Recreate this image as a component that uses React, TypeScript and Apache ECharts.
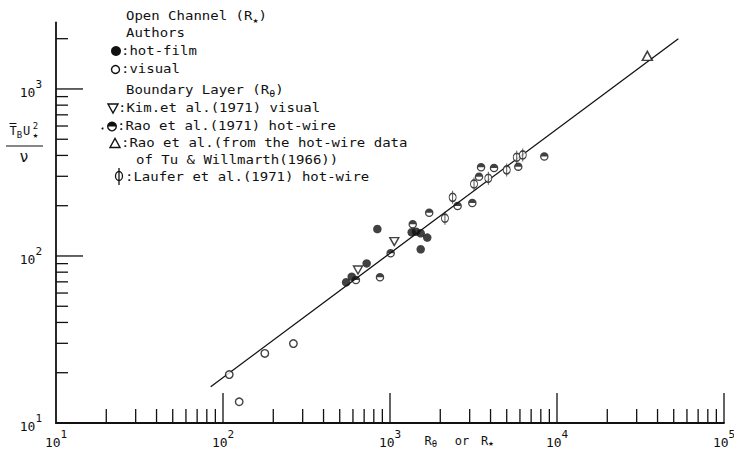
import React, { useEffect, useRef } from 'react';
import * as echarts from 'echarts';

const FONT = '"DejaVu Sans Mono", monospace';
const INK = '#111';

// Open channel (R*), hot-film
const hotFilmR = [546, 590, 725, 840, 1349, 1432, 1527, 1671, 1527];
const hotFilmT = [69.6, 75.2, 90.3, 145, 138.6, 139.8, 136.8, 128.8, 109.7];
// Open channel (R*), visual
const visualR = [109, 125, 178, 264];
const visualT = [19.5, 13.4, 26.1, 29.9];
// Boundary layer (R_theta): Kim et al. (1971) visual
const kimR = [643, 1061];
const kimT = [82.4, 121.9];
// Rao et al. (1971) hot-wire
const raoR = [625, 871, 1009, 1368, 1717, 2541, 3111, 3412, 3509, 4197, 5861, 8393];
const raoT = [71.8, 74.6, 103.7, 154.8, 181.5, 199, 207.6, 298.5, 339.8, 336.6, 342.7, 393.5];
// Rao et al. from the hot-wire data of Tu & Willmarth (1966)
const tuR = [34750];
const tuT = [1578];
// Laufer et al. (1971) hot-wire
const lauferR = [2133, 2372, 3185, 3879, 5000, 5741, 6237];
const lauferT = [168.3, 224.4, 269.8, 291.9, 327.6, 389.9, 402.6];
// correlation line
const fitR = [84.4, 53300];
const fitT = [16.5, 2000];

// axis ranges and tick positions
const X_MIN = 10;
const X_MAX = 100000;
const Y_MIN = 10;
const Y_MAX = 2500;
const xMajorTicks = [100, 1000, 10000, 100000];
const xMinorTicks = [
  20, 30, 40, 50, 60, 70, 80, 90,
  200, 300, 400, 500, 600, 700, 800, 900,
  2000, 3000, 4000, 5000, 6000, 7000, 8000, 9000,
  20000, 30000, 40000, 50000, 60000, 70000, 80000, 90000,
];
const yMajorTicks = [100, 1000];
const yMinorTicks = [
  20, 30, 40, 50, 60, 70, 80, 90,
  200, 300, 400, 500, 600, 700, 800, 900,
  2000,
];

// upper half filled, lower half open
const HALF_PATH = 'path://M0,10A10,10,0,1,1,20,10A10,10,0,1,1,0,10ZM3,10A7,7,0,0,0,17,10Z';
// circle crossed by a vertical stroke
const PHI_PATH = 'path://M10,0L10,32M0,16A10,10,0,1,1,20,16A10,10,0,1,1,0,16Z';

const pairs = (xs: number[], ys: number[]) => xs.map((x, i) => [x, ys[i]]);

const powLabel = (v: number) => {
  const e = Math.round(Math.log10(v));
  if (Math.abs(Math.log10(v) - e) > 1e-6) return '';
  return `{b|10}{e|${e}}`;
};

const labelRich = {
  b: { fontFamily: FONT, fontSize: 13, color: INK, lineHeight: 20, verticalAlign: 'bottom' },
  e: { fontFamily: FONT, fontSize: 11, color: INK, lineHeight: 11, verticalAlign: 'top' },
};

const tickSeries = (vals: number[], axis: 'x' | 'y', len: number) => ({
  type: 'custom',
  silent: true,
  z: 5,
  data: vals.map((v) => (axis === 'x' ? [v, Y_MIN] : [X_MIN, v])),
  renderItem: (_p: any, api: any) => {
    const p = api.coord([api.value(0), api.value(1)]);
    const shape =
      axis === 'x'
        ? { x1: p[0], y1: p[1], x2: p[0], y2: p[1] - len }
        : { x1: p[0], y1: p[1], x2: p[0] + len, y2: p[1] };
    return { type: 'line', shape, style: { stroke: INK, lineWidth: 1.3 } };
  },
});

const txt = (x: number, y: number, text: string, fontSize: number, extra: any = {}) => ({
  type: 'text',
  x,
  y,
  scaleY: extra.scaleY ?? 1,
  style: {
    text,
    fill: INK,
    fontFamily: FONT,
    fontSize,
    align: extra.align ?? 'left',
    verticalAlign: 'middle',
    textAlign: extra.align ?? 'left',
    textVerticalAlign: 'middle',
    lineHeight: extra.lineHeight,
    rich: extra.rich,
  },
});

const subRich = {
  s: { fontFamily: FONT, fontSize: 10, color: INK, lineHeight: 10, verticalAlign: 'bottom' },
};

const legendLine = (x: number, y: number, text: string) =>
  txt(x, y, text, 14, { scaleY: 0.85, lineHeight: 20, rich: subRich });

const stroke = { stroke: INK, lineWidth: 1.4, fill: '#fff' };

const graphics: any[] = [
  // legend text
  legendLine(126, 16, 'Open Channel (R{s|★})'),
  legendLine(126, 33, 'Authors'),
  legendLine(121, 51, ':hot-film'),
  legendLine(121, 69, ':visual'),
  legendLine(126, 90, 'Boundary Layer (R{s|θ})'),
  legendLine(118, 108, ':Kim.et al.(1971) visual'),
  legendLine(117, 126, ':Rao et al.(1971) hot-wire'),
  legendLine(121, 143, ':Rao et al.(from the hot-wire data'),
  legendLine(136, 160, 'of Tu & Willmarth(1966))'),
  legendLine(125, 177, ':Laufer et al.(1971) hot-wire'),
  // legend markers
  { type: 'circle', shape: { cx: 116, cy: 51, r: 5 }, style: { fill: INK } },
  { type: 'circle', shape: { cx: 115.5, cy: 69.5, r: 4 }, style: stroke },
  { type: 'polygon', shape: { points: [[108, 104], [118, 104], [113, 113]] }, style: stroke },
  { type: 'circle', shape: { cx: 102.5, cy: 128.5, r: 1 }, style: { fill: INK } },
  { type: 'circle', shape: { cx: 112, cy: 126.5, r: 4.3 }, style: stroke },
  { type: 'sector', shape: { cx: 112, cy: 126.5, r: 4.5, r0: 0, startAngle: Math.PI, endAngle: Math.PI * 2 }, style: { fill: INK } },
  { type: 'polygon', shape: { points: [[110, 147.5], [120, 147.5], [115, 138.5]] }, style: stroke },
  { type: 'line', shape: { x1: 119, y1: 168, x2: 119, y2: 185 }, style: { stroke: INK, lineWidth: 1.3 } },
  { type: 'ellipse', shape: { cx: 119, cy: 176, rx: 3.5, ry: 4.5 }, style: { stroke: INK, lineWidth: 1.3, fill: 'none' } },
  // y-axis title: T_B U*^2 / nu
  txt(13, 131, 'T', 12, { align: 'center' }),
  { type: 'line', shape: { x1: 9.5, y1: 123.5, x2: 16.5, y2: 123.5 }, style: { stroke: INK, lineWidth: 1 } },
  txt(19.5, 135, 'B', 9, { align: 'center' }),
  txt(26.5, 131, 'U', 12, { align: 'center' }),
  txt(35.5, 126, '2', 9, { align: 'center' }),
  txt(35.5, 135, '★', 9, { align: 'center' }),
  { type: 'line', shape: { x1: 6, y1: 146, x2: 43, y2: 146 }, style: { stroke: INK, lineWidth: 1.2 } },
  txt(24, 157, 'ν', 15, { align: 'center' }),
  // x-axis title: R_theta or R*
  txt(428, 441, 'R', 12, { align: 'center' }),
  txt(434.5, 444, 'θ', 9, { align: 'center' }),
  txt(462, 441, 'or', 12, { align: 'center' }),
  txt(484.5, 441, 'R', 12, { align: 'center' }),
  txt(491, 443, '★', 9, { align: 'center' }),
];

const App: React.FC = () => {
  const ref = useRef<HTMLDivElement>(null);

  useEffect(() => {
    if (!ref.current) return;
    const chart = echarts.init(ref.current, undefined, { renderer: 'svg' });
    const axisLine = { show: true, onZero: false, lineStyle: { color: INK, width: 1.8 } };
    chart.setOption({
      animation: false,
      backgroundColor: '#fff',
      grid: { left: 56, right: 10, top: 22.5, bottom: 37, containLabel: false, outerBoundsMode: 'none' },
      xAxis: {
        type: 'log',
        logBase: 10,
        min: X_MIN,
        max: X_MAX,
        axisLine,
        axisTick: { show: false },
        splitLine: { show: false },
        axisLabel: { margin: 6, formatter: powLabel, rich: labelRich },
      },
      yAxis: {
        type: 'log',
        logBase: 10,
        min: Y_MIN,
        max: Y_MAX,
        axisLine,
        axisTick: { show: false },
        splitLine: { show: false },
        axisLabel: { margin: 14, formatter: powLabel, rich: labelRich },
      },
      graphic: graphics,
      series: [
        tickSeries(xMinorTicks, 'x', 14),
        tickSeries(xMajorTicks, 'x', 30),
        tickSeries(yMinorTicks, 'y', 12),
        tickSeries(yMajorTicks, 'y', 27),
        {
          type: 'line',
          data: pairs(fitR, fitT),
          symbol: 'none',
          lineStyle: { color: INK, width: 1.3 },
          z: 2,
        },
        {
          type: 'scatter',
          data: pairs(hotFilmR, hotFilmT),
          symbol: 'circle',
          symbolSize: 8.5,
          itemStyle: { color: INK },
          z: 3,
        },
        {
          type: 'scatter',
          data: pairs(visualR, visualT),
          symbol: 'circle',
          symbolSize: 7.5,
          itemStyle: { color: '#fff', borderColor: INK, borderWidth: 1.4 },
          z: 3,
        },
        {
          type: 'scatter',
          data: pairs(kimR, kimT),
          symbol: 'triangle',
          symbolSize: [9, 8],
          symbolRotate: 180,
          itemStyle: { color: '#fff', borderColor: INK, borderWidth: 1.4 },
          z: 3,
        },
        {
          type: 'scatter',
          data: pairs(raoR, raoT),
          symbol: HALF_PATH,
          symbolSize: 8.5,
          itemStyle: { color: INK },
          z: 3,
        },
        {
          type: 'scatter',
          data: pairs(tuR, tuT),
          symbol: 'triangle',
          symbolSize: [10, 9],
          itemStyle: { color: '#fff', borderColor: INK, borderWidth: 1.5 },
          z: 3,
        },
        {
          type: 'scatter',
          data: pairs(lauferR, lauferT),
          symbol: PHI_PATH,
          symbolSize: [7, 13],
          itemStyle: { color: '#fff', borderColor: INK, borderWidth: 1.2 },
          z: 3,
        },
      ],
    });
    return () => chart.dispose();
  }, []);

  return (
    <div
      ref={ref}
      style={{ position: 'fixed', left: 0, top: 0, width: 734, height: 460, background: '#fff' }}
    />
  );
};

export default App;
